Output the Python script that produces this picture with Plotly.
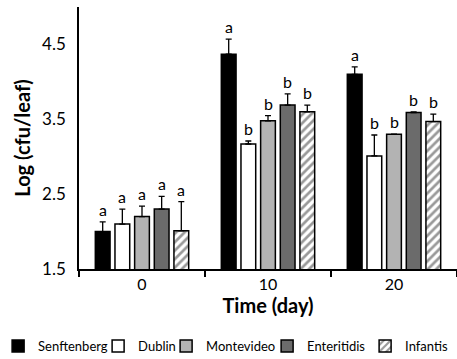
import plotly.graph_objects as go

days = ["0", "10", "20"]
strains = ["Senftenberg", "Dublin", "Montevideo", "Enteritidis", "Infantis"]
means = {
    "Senftenberg": [2.00, 4.37, 4.10],
    "Dublin":      [2.10, 3.17, 3.01],
    "Montevideo":  [2.20, 3.48, 3.30],
    "Enteritidis": [2.30, 3.69, 3.59],
    "Infantis":    [2.01, 3.60, 3.47],
}
errors = {
    "Senftenberg": [0.13, 0.20, 0.10],
    "Dublin":      [0.20, 0.04, 0.28],
    "Montevideo":  [0.14, 0.07, 0.00],
    "Enteritidis": [0.17, 0.15, 0.01],
    "Infantis":    [0.39, 0.09, 0.10],
}
letters = {
    "Senftenberg": ["a", "a", "a"],
    "Dublin":      ["a", "b", "b"],
    "Montevideo":  ["a", "b", "b"],
    "Enteritidis": ["a", "b", "b"],
    "Infantis":    ["a", "b", "b"],
}
fills = {
    "Senftenberg": "#000000",
    "Dublin": "#ffffff",
    "Montevideo": "#b3b3b3",
    "Enteritidis": "#6b6b6b",
    "Infantis": "#ffffff",
}
legend_widths = {"Senftenberg": 55, "Dublin": 23, "Montevideo": 56,
                 "Enteritidis": 53, "Infantis": 47}

FONT = "Lato, Open Sans, sans-serif"
BARGAP = 0.22

fig = go.Figure()
for s in strains:
    marker = dict(color=fills[s], line=dict(color="#000000", width=1.5))
    if s == "Infantis":
        marker["pattern"] = dict(shape="/", fgcolor="#333333", bgcolor="#ffffff",
                                 size=6, solidity=0.45)
    fig.add_trace(go.Bar(
        name=s, x=days, y=means[s], marker=marker, legendwidth=legend_widths[s],
        error_y=dict(type="data", array=errors[s], arrayminus=[0] * 3,
                     symmetric=False, color="#000000", thickness=1.3, width=3),
    ))

slot = (1 - BARGAP) / len(strains)
for i, s in enumerate(strains):
    for g in range(len(days)):
        fig.add_annotation(
            x=g + (i - 2) * slot, y=means[s][g] + errors[s][g],
            text=letters[s][g], showarrow=False, xref="x", yref="y",
            yanchor="bottom", yshift=1,
            font=dict(family=FONT, size=16, color="#000000"),
        )

fig.update_layout(
    barmode="group", bargap=BARGAP, bargroupgap=0.25,
    width=457, height=359,
    margin=dict(l=79, r=0, t=7, b=90, autoexpand=False),
    plot_bgcolor="#ffffff", paper_bgcolor="#ffffff",
    font=dict(family=FONT, color="#000000"),
    showlegend=True,
    legend=dict(orientation="h", x=-0.214, xanchor="left", y=-0.294, yanchor="middle",
                xref="paper", yref="paper",
                font=dict(family=FONT, size=13, color="#000000"),
                itemwidth=30, tracegroupgap=0, bgcolor="rgba(0,0,0,0)"),
)
fig.update_xaxes(
    type="category", showline=True, linecolor="#000000", linewidth=1.5,
    ticks="outside", tickson="boundaries", ticklen=6, tickcolor="#000000", tickwidth=1.5,
    tickfont=dict(family=FONT, size=16),
    title=dict(text="<b>Time (day)</b>", font=dict(family=FONT, size=20), standoff=4),
    showgrid=False, zeroline=False,
)
fig.update_yaxes(
    range=[1.5, 5.0], tickvals=[1.5, 2.5, 3.5, 4.5], ticktext=["1.5", "2.5", "3.5", "4.5"],
    showline=True, linecolor="#000000", linewidth=1.5, ticks="",
    ticklabelstandoff=8,
    tickfont=dict(family=FONT, size=17),
    title=dict(text="<b>Log (cfu/leaf)</b>", font=dict(family=FONT, size=20), standoff=6),
    showgrid=False, zeroline=False,
)

fig.write_html("out.html")
